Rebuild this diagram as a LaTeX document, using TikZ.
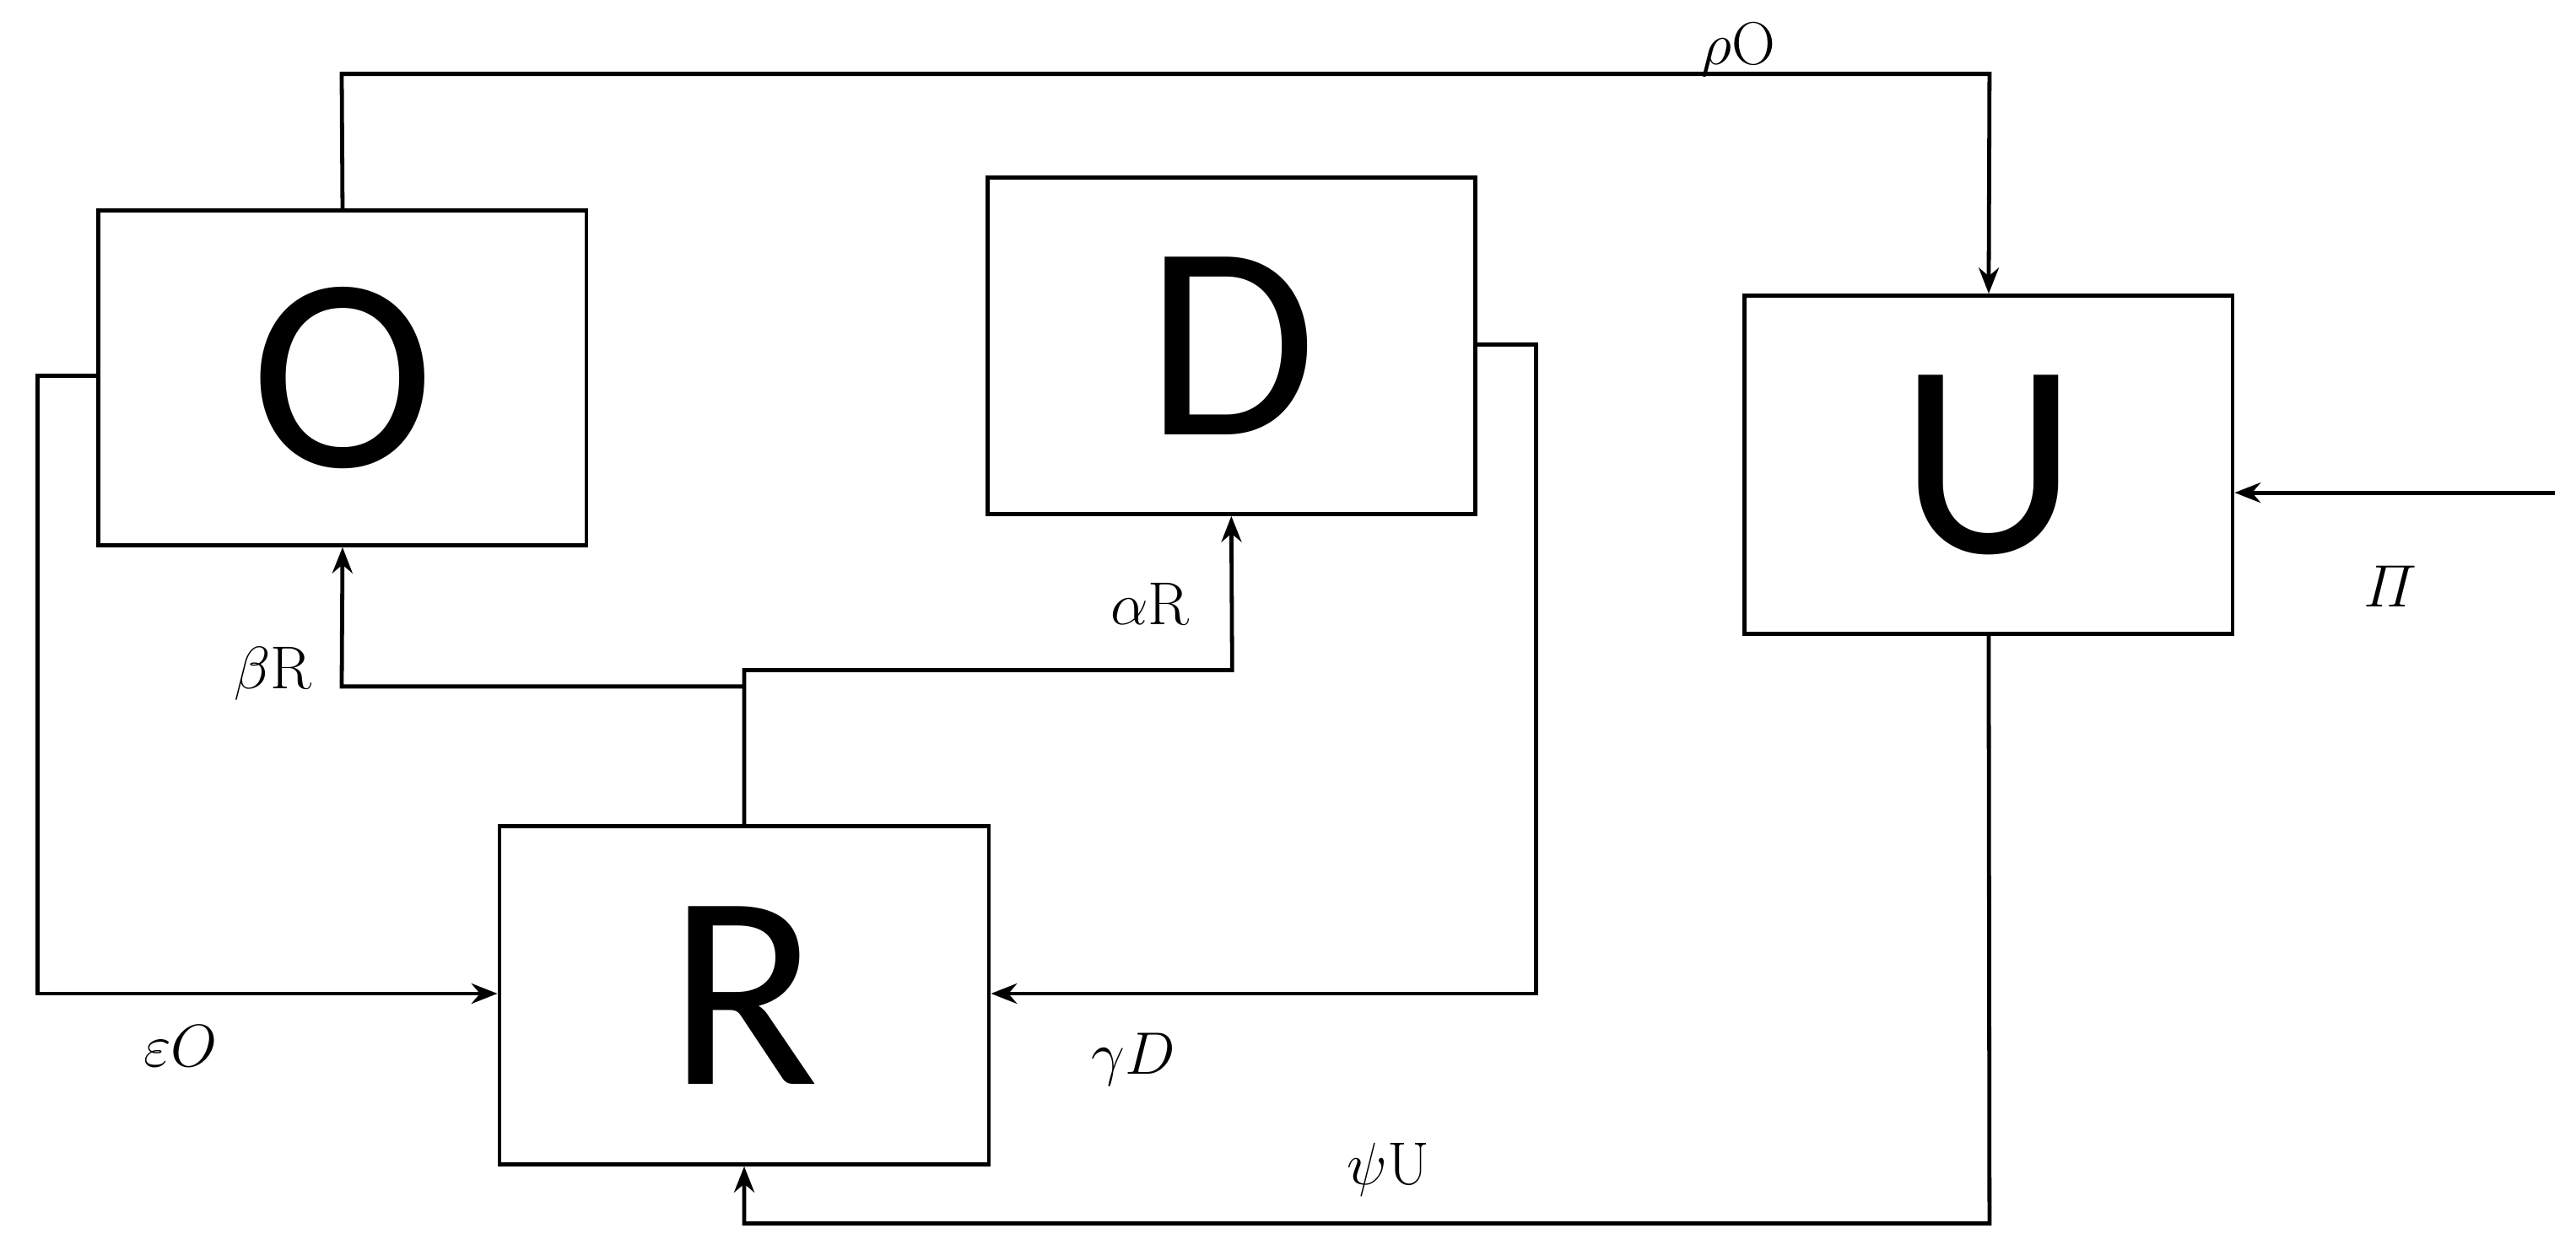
\documentclass[tikz,border=0pt]{standalone}
\usepackage{amsmath}
\usepackage{fontspec}
\setmainfont{Latin Modern Roman}
\newfontfamily\bigsans{Carlito}
\usetikzlibrary{arrows.meta}
\begin{document}
\begin{tikzpicture}[x=0.02cm,y=-0.02cm,
  box/.style={draw,line width=1.4pt,inner sep=0pt,font=\bigsans\fontsize{96}{100}\selectfont},
  wire/.style={line width=1.4pt,-{Stealth[length=9pt,width=7pt]}},
  lab/.style={font=\fontsize{21}{25}\selectfont}]
\useasboundingbox (0,0) rectangle (1568,761);
\node[box,minimum width=5.94cm,minimum height=4.08cm] (O) at (208.5,230) {O};
\node[box,minimum width=5.94cm,minimum height=4.10cm] (D) at (749.5,210.5) {D};
\node[box,minimum width=5.94cm,minimum height=4.12cm] (U) at (1210.5,283) {U};
\node[box,minimum width=5.96cm,minimum height=4.12cm] (R) at (453,606) {R};
\coordinate (inU) at (1555,300);
\coordinate (bj) at (453,418);
% rho O
\draw[wire] (O.north) -- (208,45) -- (1211,45) -- (U.north);
\node[lab] (l1) at (1058,30) {$\rho$O};
% eps O
\draw[wire] (O.west |- 0,229) -- (23,229) -- (23,605) -- (R.west |- 0,605);
\node[lab] (l2) at (110,637) {$\varepsilon O$};
% gamma D
\draw[wire] (D.east |- 0,210) -- (935,210) -- (935,605) -- (R.east |- 0,605);
\node[lab] (l3) at (690,645) {$\gamma D$};
% alpha R
\draw[wire] (R.north) -- (453,408) -- (750,408) -- (D.south);
\node[lab] (l4) at (700,368) {$\alpha$R};
% beta R
\draw[wire] (bj) -- (208,418) -- (O.south);
\node[lab] (l5) at (166,410) {$\beta$R};
% psi U
\draw[wire] (U.south) -- (1211,745) -- (453,745) -- (R.south);
\node[lab] (l6) at (845,712) {$\psi$U};
% Pi
\draw[wire] (inU) -- (U.east |- inU);
\node[lab] (l7) at (1455,357) {$\varPi$};
\end{tikzpicture}
\end{document}
